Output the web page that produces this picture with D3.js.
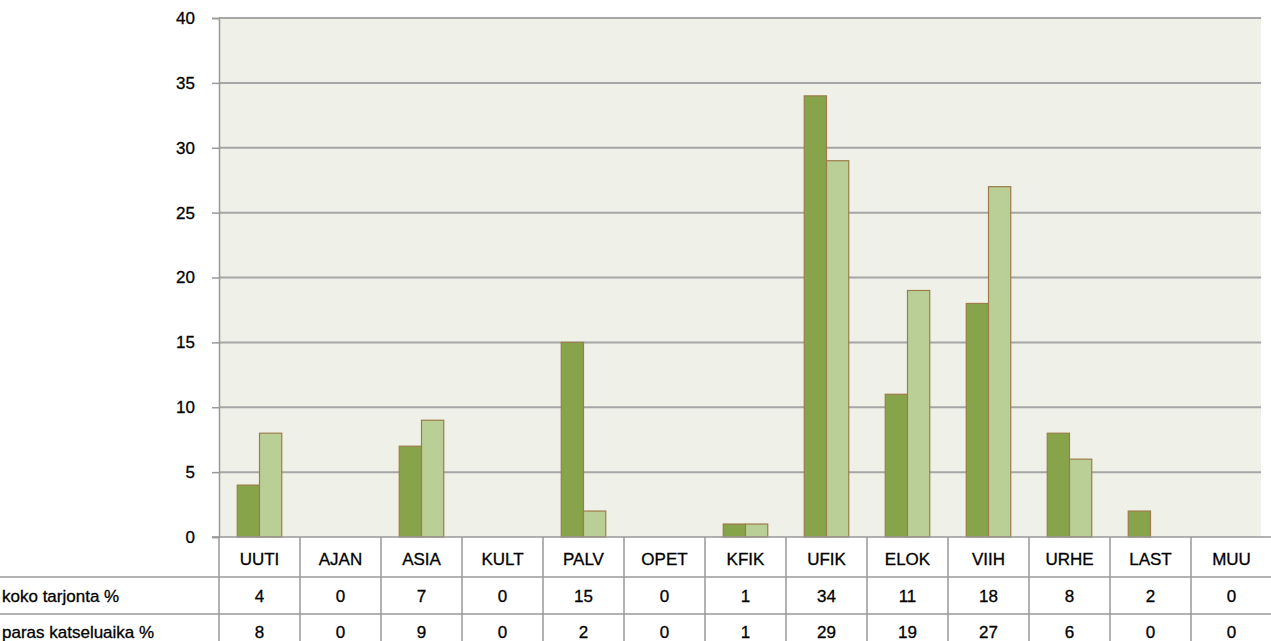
<!DOCTYPE html>
<html>
<head>
<meta charset="utf-8">
<script src="https://cdn.jsdelivr.net/npm/d3@7/dist/d3.min.js"></script>
<style>
  body { margin: 0; background: #fff; }
  svg { display: block; font-family: "Liberation Sans", Arial, sans-serif; }
  svg text { fill: #000; stroke: #000; stroke-width: 0.3px; }
</style>
</head>
<body>
<div id="chart"></div>
<script>
'use strict';

const categories = ['UUTI', 'AJAN', 'ASIA', 'KULT', 'PALV', 'OPET', 'KFIK', 'UFIK', 'ELOK', 'VIIH', 'URHE', 'LAST', 'MUU'];
const seriesNames = ['koko tarjonta %', 'paras katseluaika %'];
const kokoTarjonta = [4, 0, 7, 0, 15, 0, 1, 34, 11, 18, 8, 2, 0];
const parasKatseluaika = [8, 0, 9, 0, 2, 0, 1, 29, 19, 27, 6, 0, 0];
const yTicks = [0, 5, 10, 15, 20, 25, 30, 35, 40];

const seriesValues = [kokoTarjonta, parasKatseluaika];
const colors = ['#87a44b', '#b9cf96'];

const width = 1271;
const height = 641;
const plotLeft = 219;
const plotRight = 1261;
const plotTop = 18;
const plotBottom = 537;
const rowLines = [577, 614];
const rowBaselines = [565, 602, 638];

const svg = d3.select('#chart').append('svg')
    .attr('width', width)
    .attr('height', height);

const x = d3.scaleBand()
    .domain(categories)
    .range([plotLeft, plotLeft + 81 * categories.length]);

const x1 = d3.scaleBand()
    .domain([0, 1])
    .range([0, x.bandwidth()])
    .paddingOuter(0.82)
    .paddingInner(0);

const y = d3.scaleLinear()
    .domain([0, 40])
    .range([plotBottom, plotTop]);

// plot background
svg.append('rect')
    .attr('x', plotLeft)
    .attr('y', plotTop)
    .attr('width', plotRight - plotLeft)
    .attr('height', plotBottom - plotTop)
    .attr('fill', '#eff1e8');

// grid lines
svg.append('g')
    .selectAll('line')
    .data(yTicks.filter(d => d > 0))
    .join('line')
    .attr('x1', plotLeft)
    .attr('x2', plotRight)
    .attr('y1', d => y(d))
    .attr('y2', d => y(d))
    .attr('stroke', '#a6a6a6')
    .attr('stroke-width', 2);

// y axis
const yAxis = svg.append('g')
    .attr('transform', `translate(${plotLeft},0)`)
    .call(d3.axisLeft(y).tickValues(yTicks).tickSize(7).tickPadding(17));
yAxis.select('.domain').attr('stroke', '#999').attr('stroke-width', 1.5);
yAxis.selectAll('.tick line').attr('stroke', '#999').attr('stroke-width', 1.5);
yAxis.selectAll('.tick text')
    .attr('font-size', 17)
    .attr('font-family', '"Liberation Sans", Arial, sans-serif');

// bars
const groups = svg.append('g')
    .selectAll('g')
    .data(categories)
    .join('g')
    .attr('transform', d => `translate(${x(d)},0)`);

groups.selectAll('rect')
    .data((d, i) => seriesValues.map((s, j) => ({ s: j, v: s[i] })).filter(e => e.v > 0))
    .join('rect')
    .attr('x', d => x1(d.s))
    .attr('y', d => y(d.v))
    .attr('width', x1.bandwidth())
    .attr('height', d => y(0) - y(d.v))
    .attr('fill', d => colors[d.s])
    .attr('stroke', '#9c7c48')
    .attr('stroke-width', 1.2);

// zero line
svg.append('line')
    .attr('x1', plotLeft - 7)
    .attr('x2', width)
    .attr('y1', plotBottom)
    .attr('y2', plotBottom)
    .attr('stroke', '#999')
    .attr('stroke-width', 1.5);

// data table
const table = svg.append('g');

table.selectAll('line.row')
    .data(rowLines)
    .join('line')
    .attr('class', 'row')
    .attr('x1', 0)
    .attr('x2', width)
    .attr('y1', d => d)
    .attr('y2', d => d)
    .attr('stroke', '#999')
    .attr('stroke-width', 1.5);

table.selectAll('line.col')
    .data(categories.map(c => x(c)).concat([x.range()[1]]))
    .join('line')
    .attr('class', 'col')
    .attr('x1', d => d)
    .attr('x2', d => d)
    .attr('y1', plotBottom)
    .attr('y2', height)
    .attr('stroke', '#999')
    .attr('stroke-width', 1.5);

table.selectAll('text.cat')
    .data(categories)
    .join('text')
    .attr('class', 'cat')
    .attr('x', d => x(d) + x.bandwidth() / 2)
    .attr('y', rowBaselines[0])
    .attr('text-anchor', 'middle')
    .attr('font-size', 17)
    .text(d => d);

seriesValues.forEach((vals, j) => {
    table.append('text')
        .attr('x', 2)
        .attr('y', rowBaselines[j + 1])
        .attr('font-size', 17)
        .text(seriesNames[j]);
    table.selectAll(`text.v${j}`)
        .data(vals)
        .join('text')
        .attr('class', `v${j}`)
        .attr('x', (d, i) => x(categories[i]) + x.bandwidth() / 2)
        .attr('y', rowBaselines[j + 1])
        .attr('text-anchor', 'middle')
        .attr('font-size', 17)
        .text(d => d);
});
</script>
</body>
</html>
